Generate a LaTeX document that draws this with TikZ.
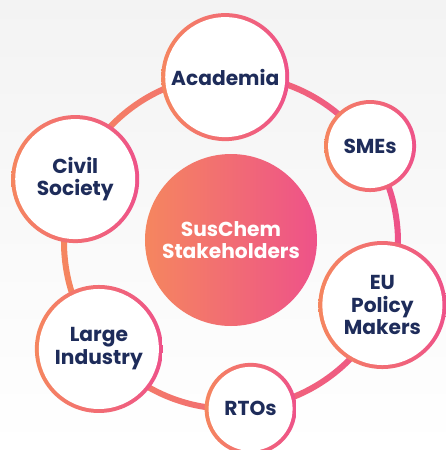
\documentclass[tikz,border=0pt]{standalone}
\usepackage{fontspec}
\setmainfont{Poppins}
\usetikzlibrary{calc,shapes.geometric}
\definecolor{warm}{RGB}{245,134,95}
\definecolor{rose}{RGB}{238,82,137}
\definecolor{navy}{RGB}{30,44,90}
\definecolor{bggray}{RGB}{243,243,243}
\tikzset{
  stake/.style={circle,inner sep=0pt,align=center,text=navy,
    font=\bfseries\fontsize{11.5}{13}\selectfont,
    left color=warm,right color=rose},
  bigstake/.style={stake,minimum size=2.56cm,
    path picture={\fill[white] (path picture bounding box.center) circle (1.2cm);}},
  smallstake/.style={stake,minimum size=1.84cm,
    path picture={\fill[white] (path picture bounding box.center) circle (0.84cm);}},
  hubdisk/.style={circle,inner sep=0pt,minimum size=3.44cm,align=center,
    text=white,font=\bfseries\fontsize{11.5}{12.6}\selectfont,
    left color=warm,right color=rose}
}

\begin{document}
\begin{tikzpicture}
  % Background
  \useasboundingbox (-4.62,-4.16) rectangle (4.30,4.84);
  \shade[top color=bggray,bottom color=white] (-4.62,-4.16) rectangle (4.30,4.84);

  % Ring
  \coordinate (ringc) at (0,0);
  \shade[left color=warm,right color=rose,even odd rule]
    (ringc) circle (3.40cm) (ringc) circle (3.28cm);

  % Hub
  \node[hubdisk] (hub) at (0,0.04) {SusChem\\Stakeholders};

  % Stakeholders
  \node[bigstake] (acad) at ($(ringc)+(92:3.30)$) {Academia};
  \node[smallstake] (smes) at ($(ringc)+(34.6:3.38)$) {SMEs};
  \node[bigstake] (eu) at ($(ringc)+(-22.6:3.28)$) {EU\\Policy\\Makers};
  \node[smallstake] (rtos) at ($(ringc)+(-83.3:3.36)$) {RTOs};
  \node[bigstake] (large) at ($(ringc)+(219:3.40)$) {Large\\Industry};
  \node[bigstake] (civil) at ($(ringc)+(158:3.36)$) {Civil\\Society};
\end{tikzpicture}
\end{document}
